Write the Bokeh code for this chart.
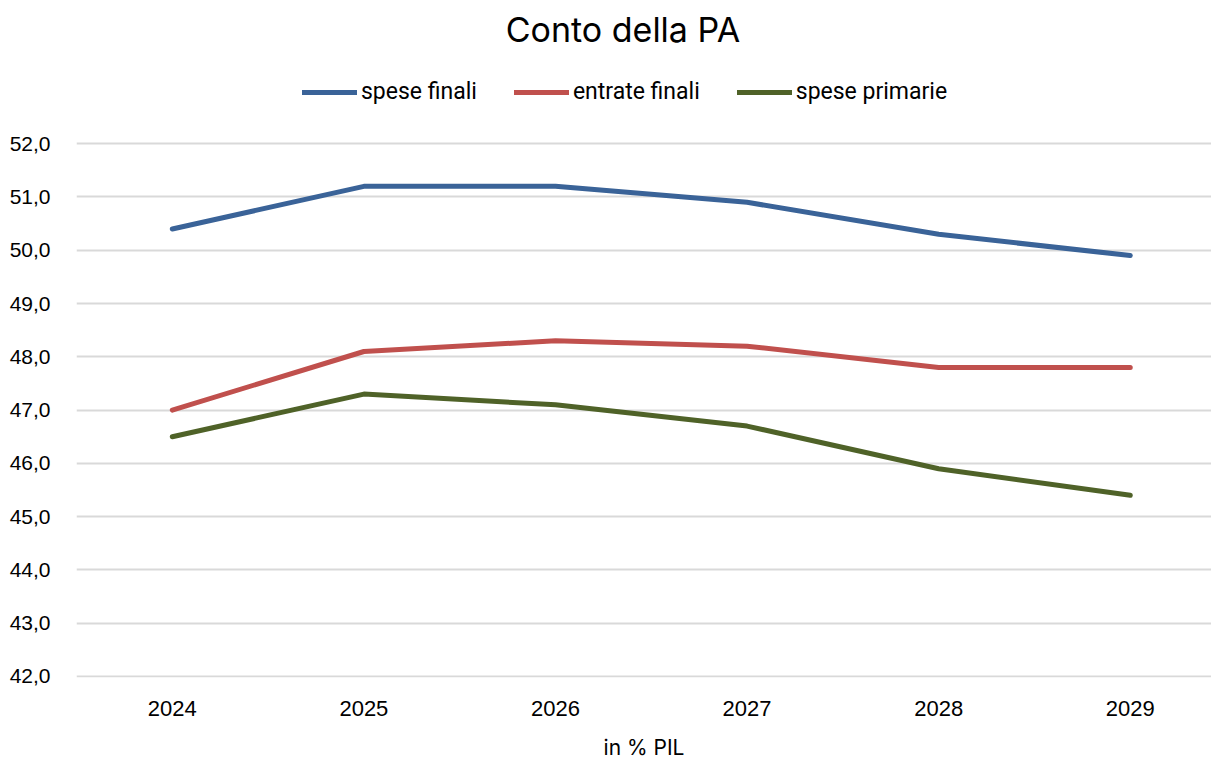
from bokeh.plotting import figure
from bokeh.models import Range1d, FixedTicker, Legend, LegendItem, Label
from bokeh.embed import file_html
from bokeh.resources import INLINE

years = ["2024", "2025", "2026", "2027", "2028", "2029"]
spese_finali = [50.4, 51.2, 51.2, 50.9, 50.3, 49.9]
entrate_finali = [47.0, 48.1, 48.3, 48.2, 47.8, 47.8]
spese_primarie = [46.5, 47.3, 47.1, 46.7, 45.9, 45.4]
y_ticks = [42, 43, 44, 45, 46, 47, 48, 49, 50, 51, 52]
y_tick_labels = {t: f"{t},0" for t in y_ticks}

xs = list(range(len(years)))

p = figure(width=1211, height=762, output_backend="svg", toolbar_location=None,
           x_range=Range1d(-0.5, 5.424), y_range=Range1d(41.981, 54.688),
           min_border_left=76, min_border_right=0, min_border_top=0, min_border_bottom=78)
p.outline_line_color = None
p.background_fill_color = "white"
p.border_fill_color = "white"

p.xgrid.grid_line_color = None
p.ygrid.grid_line_color = "#D9D9D9"
p.ygrid.grid_line_width = 2

p.yaxis.ticker = FixedTicker(ticks=y_ticks)
p.yaxis.major_label_overrides = y_tick_labels
p.yaxis.axis_line_color = None
p.yaxis.major_tick_line_color = None
p.yaxis.minor_tick_line_color = None
p.yaxis.major_label_standoff = 20
p.yaxis.major_label_text_font = "Liberation Sans"
p.yaxis.major_label_text_font_size = "21px"
p.yaxis.major_label_text_color = "#000000"

p.xaxis.ticker = FixedTicker(ticks=xs)
p.xaxis.major_label_overrides = {i: y for i, y in enumerate(years)}
p.xaxis.axis_line_color = None
p.xaxis.major_tick_line_color = None
p.xaxis.minor_tick_line_color = None
p.xaxis.major_label_standoff = 17
p.xaxis.major_label_text_font = "Liberation Sans"
p.xaxis.major_label_text_font_size = "22px"
p.xaxis.major_label_text_color = "#000000"
p.xaxis.axis_label = "in % PIL"
p.xaxis.axis_label_standoff = 16
p.xaxis.axis_label_text_font = "Inter"
p.xaxis.axis_label_text_font_style = "normal"
p.xaxis.axis_label_text_font_size = "21px"
p.xaxis.axis_label_text_color = "#000000"

r1 = p.line(xs, spese_finali, line_color="#3A6398", line_width=5, line_cap="round", line_join="round")
r2 = p.line(xs, entrate_finali, line_color="#C0504D", line_width=5, line_cap="round", line_join="round")
r3 = p.line(xs, spese_primarie, line_color="#4F6228", line_width=5, line_cap="round", line_join="round")

legend = Legend(items=[LegendItem(label="spese finali", renderers=[r1]),
                       LegendItem(label="entrate finali", renderers=[r2]),
                       LegendItem(label="spese primarie", renderers=[r3])],
                orientation="horizontal", location=(226, 572),
                glyph_width=55, glyph_height=20, label_standoff=4, spacing=37,
                padding=0, margin=0, border_line_color=None, background_fill_alpha=0,
                label_text_font="Roboto", label_text_font_size="23px", label_text_color="#000000")
p.add_layout(legend, "center")

title = Label(x=2.352, y=54.15, text="Conto della PA", text_align="center", text_baseline="middle",
              text_font="Inter", text_font_size="34px", text_color="#000000")
p.add_layout(title)

open("out.html", "w").write(file_html(p, INLINE))
